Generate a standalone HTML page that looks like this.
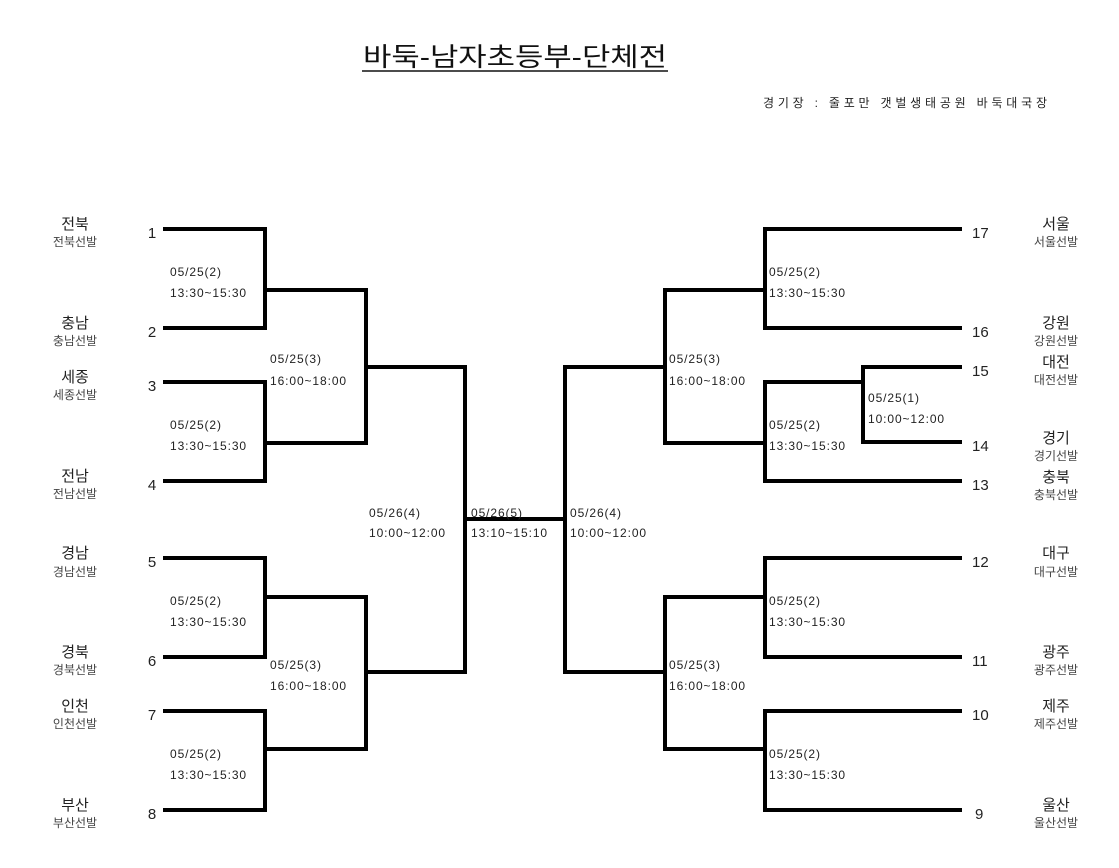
<!DOCTYPE html>
<html><head><meta charset="utf-8"><style>
body{margin:0;background:#fff;width:1119px;height:863px;overflow:hidden}
svg text{font-family:"Liberation Sans","Noto Sans CJK KR",sans-serif}
</style></head><body>
<svg width="1119" height="863" xmlns="http://www.w3.org/2000/svg">
<text x="363" y="66" font-size="26" textLength="304" lengthAdjust="spacingAndGlyphs" fill="#111">바둑-남자초등부-단체전</text>
<line x1="362" y1="71" x2="668" y2="71" stroke="#111" stroke-width="1.5"/>
<text x="763" y="107" font-size="12" textLength="284" lengthAdjust="spacing" fill="#222">경기장 : 줄포만 갯벌생태공원 바둑대국장</text>
<g stroke="#000" stroke-width="4" fill="none" stroke-linecap="square">
<polyline points="165,229 265,229 265,328 165,328"/>
<polyline points="165,382 265,382 265,481 165,481"/>
<polyline points="165,558 265,558 265,657 165,657"/>
<polyline points="165,711 265,711 265,810 165,810"/>
<polyline points="265,290 366,290 366,443 265,443"/>
<polyline points="265,597 366,597 366,749 265,749"/>
<polyline points="366,367 465,367 465,672 366,672"/>
<line x1="465" y1="519" x2="565" y2="519"/>
<polyline points="665,367 565,367 565,672 665,672"/>
<polyline points="765,290 665,290 665,443 765,443"/>
<polyline points="765,597 665,597 665,749 765,749"/>
<polyline points="960,229 765,229 765,328 960,328"/>
<polyline points="863,382 765,382 765,481 960,481"/>
<polyline points="960,367 863,367 863,442 960,442"/>
<polyline points="960,558 765,558 765,657 960,657"/>
<polyline points="960,711 765,711 765,810 960,810"/>
</g>
<g font-size="15" fill="#222">
<text x="152" y="238" text-anchor="middle">1</text>
<text x="152" y="337" text-anchor="middle">2</text>
<text x="152" y="391" text-anchor="middle">3</text>
<text x="152" y="490" text-anchor="middle">4</text>
<text x="152" y="567" text-anchor="middle">5</text>
<text x="152" y="666" text-anchor="middle">6</text>
<text x="152" y="720" text-anchor="middle">7</text>
<text x="152" y="819" text-anchor="middle">8</text>
<text x="972" y="238">17</text>
<text x="972" y="337">16</text>
<text x="972" y="376">15</text>
<text x="972" y="451">14</text>
<text x="972" y="490">13</text>
<text x="972" y="567">12</text>
<text x="972" y="666">11</text>
<text x="972" y="720">10</text>
<text x="975" y="819">9</text>
</g>
<g text-anchor="middle" fill="#222">
<g font-size="15">
<text x="75" y="229">전북</text><text x="75" y="328">충남</text><text x="75" y="382">세종</text><text x="75" y="481">전남</text>
<text x="75" y="558">경남</text><text x="75" y="657">경북</text><text x="75" y="711">인천</text><text x="75" y="810">부산</text>
<text x="1056" y="229">서울</text><text x="1056" y="328">강원</text><text x="1056" y="367">대전</text><text x="1056" y="443">경기</text>
<text x="1056" y="482">충북</text><text x="1056" y="558">대구</text><text x="1056" y="657">광주</text><text x="1056" y="711">제주</text><text x="1056" y="810">울산</text>
</g>
<g font-size="12" fill="#444">
<text x="75" y="246">전북선발</text><text x="75" y="345">충남선발</text><text x="75" y="399">세종선발</text><text x="75" y="498">전남선발</text>
<text x="75" y="576">경남선발</text><text x="75" y="674">경북선발</text><text x="75" y="728">인천선발</text><text x="75" y="827">부산선발</text>
<text x="1056" y="246">서울선발</text><text x="1056" y="345">강원선발</text><text x="1056" y="384">대전선발</text><text x="1056" y="460">경기선발</text>
<text x="1056" y="499">충북선발</text><text x="1056" y="576">대구선발</text><text x="1056" y="674">광주선발</text><text x="1056" y="728">제주선발</text><text x="1056" y="827">울산선발</text>
</g>
</g>
<g font-size="12" fill="#222" letter-spacing="0.9">
<text x="170" y="276">05/25(2)</text><text x="170" y="297">13:30~15:30</text>
<text x="170" y="429">05/25(2)</text><text x="170" y="450">13:30~15:30</text>
<text x="170" y="605">05/25(2)</text><text x="170" y="626">13:30~15:30</text>
<text x="170" y="758">05/25(2)</text><text x="170" y="779">13:30~15:30</text>
<text x="270" y="363">05/25(3)</text><text x="270" y="385">16:00~18:00</text>
<text x="270" y="669">05/25(3)</text><text x="270" y="690">16:00~18:00</text>
<text x="369" y="517">05/26(4)</text><text x="369" y="537">10:00~12:00</text>
<text x="471" y="517">05/26(5)</text><text x="471" y="537">13:10~15:10</text>
<text x="570" y="517">05/26(4)</text><text x="570" y="537">10:00~12:00</text>
<text x="669" y="363">05/25(3)</text><text x="669" y="385">16:00~18:00</text>
<text x="669" y="669">05/25(3)</text><text x="669" y="690">16:00~18:00</text>
<text x="769" y="276">05/25(2)</text><text x="769" y="297">13:30~15:30</text>
<text x="769" y="429">05/25(2)</text><text x="769" y="450">13:30~15:30</text>
<text x="769" y="605">05/25(2)</text><text x="769" y="626">13:30~15:30</text>
<text x="769" y="758">05/25(2)</text><text x="769" y="779">13:30~15:30</text>
<text x="868" y="402">05/25(1)</text><text x="868" y="423">10:00~12:00</text>
</g>
</svg>
</body></html>
